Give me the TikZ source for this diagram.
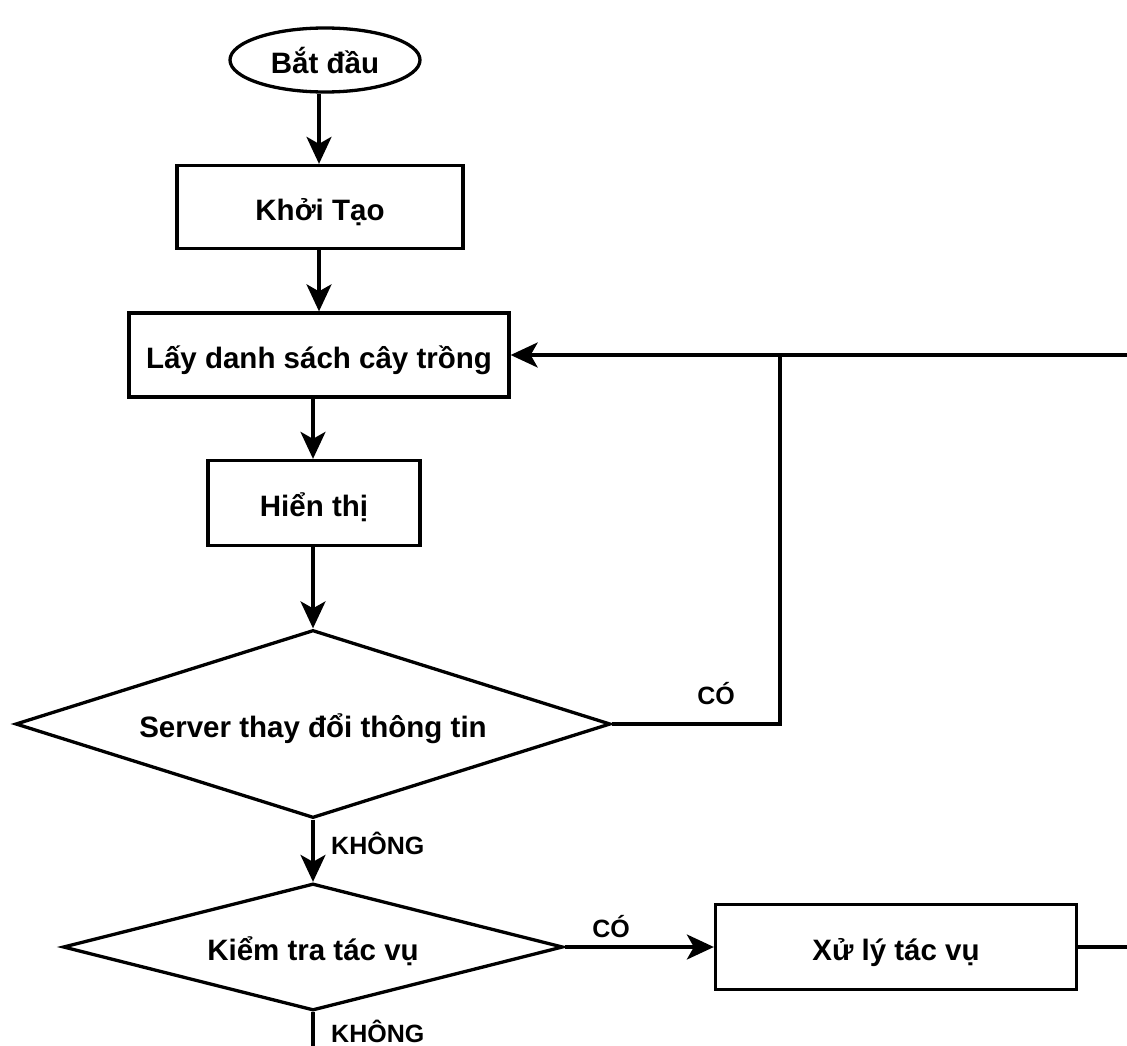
\documentclass[tikz,border=0pt]{standalone}
\usepackage{fontspec}
\setmainfont{Liberation Sans}
\usetikzlibrary{shapes.geometric,arrows.meta}

\begin{document}
\begin{tikzpicture}[x=1pt, y=-1pt, >={Stealth[length=27pt,width=25pt,inset=7pt]},
    every node/.style={font=\fontsize{29.5}{34}\selectfont\bfseries, text height=28pt, text depth=1.5pt},
    boxnode/.style={draw, line width=3.3pt, rectangle, inner sep=0pt},
    decision/.style={draw, line width=3.3pt, diamond, inner sep=0pt},
    flow/.style={line width=3.3pt},
    lbl/.style={font=\fontsize{25}{29}\selectfont\bfseries, inner sep=0pt, text height=, text depth=}]
            \useasboundingbox (0,0) rectangle (1127,1046);
            % ==== NODES ====
            \node[draw, line width=3.3pt, ellipse, minimum width=190pt, minimum height=64pt, inner sep=0pt] (start) at (325,60) {Bắt đầu};
            \node[boxnode, minimum width=286pt, minimum height=83pt] (init) at (320,207) {Khởi Tạo};
            \node[boxnode, minimum width=380pt, minimum height=84pt] (fetch) at (319,355) {Lấy danh sách cây trồng};
            \node[boxnode, minimum width=212pt, minimum height=85pt] (show) at (314,503) {Hiển thị};
            \node[decision, shape aspect=3.16, minimum width=595pt, minimum height=188pt] (srv) at (313,724) {Server thay đổi thông tin};
            \node[decision, shape aspect=3.94, minimum width=500pt, minimum height=127pt] (task) at (313,947) {Kiểm tra tác vụ};
            \node[boxnode, minimum width=361pt, minimum height=85pt] (work) at (896,947) {Xử lý tác vụ};
            \coordinate (loop) at (780,355);
            \coordinate (outA) at (1127,355);
            \coordinate (outB) at (1127,947);
            \coordinate (outC) at (313,1046);

            % ==== ARROWS ====
            \draw[flow, ->] (start.south -| fetch) -- (init.north -| fetch);
            \draw[flow, ->] (init.south -| fetch) -- (fetch.north);
            \draw[flow, ->] (fetch.south -| srv) -- (show.north -| srv);
            \draw[flow, ->] (show.south -| srv) -- (srv.north);
            \draw[flow] (srv.east) -| (loop);
            \draw[flow] (outA) -- (loop);
            \draw[flow, ->] (loop) -- (fetch.east);
            \draw[flow, ->] (srv.south) -- (task.north);
            \draw[flow, ->] (task.east) -- (work.west);
            \draw[flow] (work.east) -- (outB);
            \draw[flow] (task.south) -- (outC);

            % ==== LABELS ====
            \node[lbl] (yes1) at (716,694) {CÓ};
            \node[lbl, anchor=west] (no1) at (331,843) {KHÔNG};
            \node[lbl] (yes2) at (611,927) {CÓ};
            \node[lbl, anchor=west] (no2) at (331,1031) {KHÔNG};
\end{tikzpicture}
\end{document}
